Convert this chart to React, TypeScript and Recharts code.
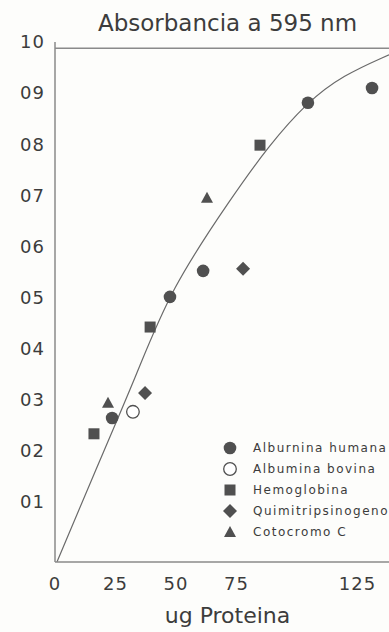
import {
  ComposedChart,
  Line,
  ReferenceLine,
  Scatter,
  XAxis,
  YAxis,
} from "recharts";

// ug proteína vs absorbancia a 595 nm
const albuminaHumana = [
  { x: 23.6, y: 0.264 },
  { x: 47.5, y: 0.501 },
  { x: 61.2, y: 0.552 },
  { x: 104.5, y: 0.881 },
  { x: 131, y: 0.91 },
];
const albuminaBovina = [{ x: 32.2, y: 0.276 }];
const hemoglobina = [
  { x: 16.1, y: 0.233 },
  { x: 39.3, y: 0.442 },
  { x: 84.7, y: 0.798 },
];
const quimitripsinogeno = [
  { x: 37.2, y: 0.313 },
  { x: 77.7, y: 0.556 },
];
const citocromo = [
  { x: 21.9, y: 0.294 },
  { x: 62.8, y: 0.695 },
];
// fitted curve drawn in the original
const curva = [
  { x: 0.8, y: -0.018 },
  { x: 15.7, y: 0.15 },
  { x: 33.9, y: 0.35 },
  { x: 47.5, y: 0.515 },
  { x: 73.6, y: 0.7 },
  { x: 88, y: 0.795 },
  { x: 104.1, y: 0.882 },
  { x: 119, y: 0.935 },
  { x: 138, y: 0.975 },
];

const xTicks = [0, 25, 50, 75, 125];
const yTicks = [0.1, 0.2, 0.3, 0.4, 0.5, 0.6, 0.7, 0.8, 0.9, 1.0];

const FONT = "'DejaVu Sans', sans-serif";
const INK = "#505050";
const TEXT = "#3c3c3c";
const AXIS = "#8a8a8a";

type Kind = "circle" | "open" | "square" | "diamond" | "triangle";

function Marker({ kind, cx, cy }: { kind: Kind; cx: number; cy: number }) {
  switch (kind) {
    case "circle":
      return <circle cx={cx} cy={cy} r={6.3} fill={INK} />;
    case "open":
      return (
        <circle cx={cx} cy={cy} r={6.3} fill="#fff" stroke={INK} strokeWidth={1.3} />
      );
    case "square":
      return <rect x={cx - 5.5} y={cy - 5.5} width={11} height={11} fill={INK} />;
    case "diamond":
      return (
        <polygon
          points={`${cx},${cy - 7} ${cx + 7},${cy} ${cx},${cy + 7} ${cx - 7},${cy}`}
          fill={INK}
        />
      );
    default:
      return (
        <polygon
          points={`${cx},${cy - 6} ${cx + 6},${cy + 5} ${cx - 6},${cy + 5}`}
          fill={INK}
        />
      );
  }
}

const series: { name: string; kind: Kind; data: { x: number; y: number }[] }[] = [
  { name: "Alburnina humana", kind: "circle", data: albuminaHumana },
  { name: "Albumina bovina", kind: "open", data: albuminaBovina },
  { name: "Hemoglobina", kind: "square", data: hemoglobina },
  { name: "Quimitripsinogeno", kind: "diamond", data: quimitripsinogeno },
  { name: "Cotocromo C", kind: "triangle", data: citocromo },
];

function LegendBox() {
  return (
    <div
      style={{
        position: "absolute",
        left: 220,
        top: 437,
        fontFamily: FONT,
        fontSize: 12,
        color: TEXT,
        letterSpacing: 1.5,
      }}
    >
      {series.map((s) => (
        <div
          key={s.name}
          style={{ display: "flex", alignItems: "center", height: 21, whiteSpace: "nowrap" }}
        >
          <svg width={20} height={16} style={{ marginRight: 13 }}>
            <Marker kind={s.kind} cx={10} cy={8} />
          </svg>
          {s.name}
        </div>
      ))}
    </div>
  );
}

export default function App() {
  return (
    <div
      style={{
        position: "absolute",
        left: 0,
        top: 0,
        width: 389,
        height: 632,
        background: "#fdfdfb",
        overflow: "hidden",
      }}
    >
      <div
        style={{
          position: "absolute",
          left: 0,
          width: 455,
          top: 10,
          textAlign: "center",
          fontFamily: FONT,
          fontSize: 23,
          color: TEXT,
        }}
      >
        Absorbancia a 595 nm
      </div>
      <ComposedChart
        width={389}
        height={632}
        margin={{ top: 42, right: 0, bottom: 40, left: 0 }}
      >
        <XAxis
          type="number"
          dataKey="x"
          height={30}
          domain={[0, 138]}
          ticks={xTicks}
          allowDataOverflow
          tickLine={false}
          tickSize={0}
          tickMargin={15}
          axisLine={{ stroke: AXIS, strokeWidth: 1.5 }}
          tick={{ fontSize: 18, fill: TEXT, fontFamily: FONT, letterSpacing: 1 }}
        />
        <YAxis
          type="number"
          dataKey="y"
          width={55}
          domain={[-0.018, 1.0]}
          ticks={yTicks}
          allowDataOverflow
          tickLine={false}
          tickSize={0}
          tickMargin={10}
          axisLine={{ stroke: AXIS, strokeWidth: 1.5 }}
          tickFormatter={(v: number) => (v >= 1 ? "10" : `0${Math.round(v * 10)}`)}
          tick={{ fontSize: 18, fill: TEXT, fontFamily: FONT, letterSpacing: 1 }}
        />
        <ReferenceLine y={0.988} stroke={AXIS} strokeWidth={1.5} />
        <Line
          data={curva}
          dataKey="y"
          type="basis"
          stroke="#6a6a6a"
          strokeWidth={1.2}
          dot={false}
          isAnimationActive={false}
          legendType="none"
        />
        {series.map((s) => (
          <Scatter
            key={s.name}
            name={s.name}
            data={s.data}
            dataKey="y"
            isAnimationActive={false}
            shape={(p: any) => <Marker kind={s.kind} cx={p.cx} cy={p.cy} />}
          />
        ))}
      </ComposedChart>
      <LegendBox />
      <div
        style={{
          position: "absolute",
          left: 0,
          width: 455,
          top: 603,
          textAlign: "center",
          fontFamily: FONT,
          fontSize: 22,
          color: TEXT,
        }}
      >
        ug Proteina
      </div>
    </div>
  );
}
